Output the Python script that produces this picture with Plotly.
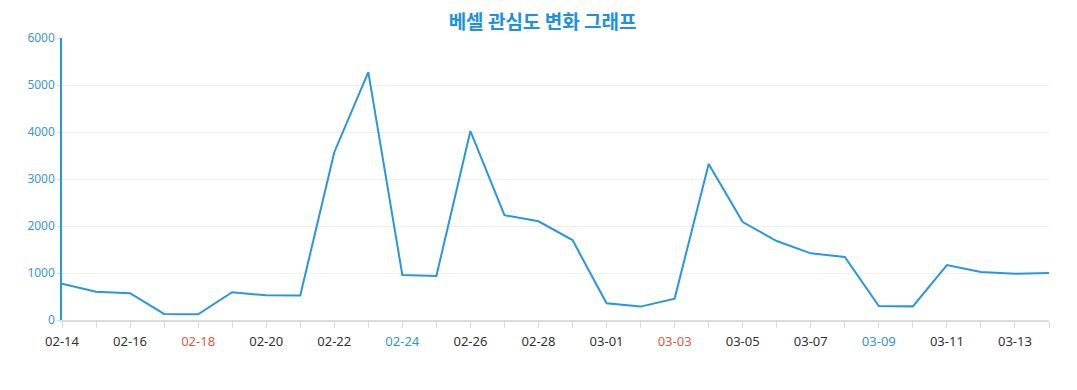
import plotly.graph_objects as go

dates = ["02-14", "02-15", "02-16", "02-17", "02-18", "02-19", "02-20", "02-21",
         "02-22", "02-23", "02-24", "02-25", "02-26", "02-27", "02-28", "02-29",
         "03-01", "03-02", "03-03", "03-04", "03-05", "03-06", "03-07", "03-08",
         "03-09", "03-10", "03-11", "03-12", "03-13", "03-14"]
values = [770, 600, 570, 130, 120, 590, 525, 520,
          3570, 5275, 957, 936, 4020, 2230, 2100, 1700,
          355, 285, 455, 3320, 2085, 1680, 1418, 1340,
          298, 290, 1170, 1021, 985, 1000]
red_dates = ["02-18", "03-03"]
blue_dates = ["02-24", "03-09"]

ticktext = []
for i, d in enumerate(dates):
    if i % 2 == 1:
        ticktext.append("")
    elif d in red_dates:
        ticktext.append(f'<span style="color:#e2583a">{d}</span>')
    elif d in blue_dates:
        ticktext.append(f'<span style="color:#2b97dd">{d}</span>')
    else:
        ticktext.append(d)

fig = go.Figure()
fig.add_trace(go.Scatter(x=dates, y=values, mode="lines",
                         line=dict(color="#2996e2", width=2),
                         hoverinfo="x+y"))

fig.update_layout(
    width=1069, height=382,
    margin=dict(l=54, r=28, t=30, b=70),
    paper_bgcolor="white", plot_bgcolor="white",
    showlegend=False,
    title=dict(text="<b>베셀 관심도 변화 그래프</b>", x=0.5, xanchor="center",
               y=1 - 14 / 382, yanchor="middle",
               font=dict(family="Noto Sans CJK KR", size=19, color="#1c8fe6")),
    font=dict(family="Noto Sans", size=12),
)
fig.update_xaxes(type="category", range=[0, len(dates) - 1],
                 tickmode="array", tickvals=dates, ticktext=ticktext,
                 showgrid=False, showline=True, linecolor="#dcdcdc", linewidth=1.5,
                 ticks="outside", ticklen=6, tickcolor="#dcdcdc", tickwidth=1,
                 ticklabelstandoff=3,
                 tickfont=dict(family="Noto Sans", size=13, color="#333333"),
                 zeroline=False, fixedrange=True)
fig.update_yaxes(range=[0, 6000], dtick=1000,
                 showgrid=True, gridcolor="#f0f0f0", gridwidth=1,
                 showline=True, linecolor="#2996e2", linewidth=1.5,
                 ticks="outside", ticklen=3, tickcolor="#dcdcdc",
                 tickfont=dict(family="Noto Sans", size=12, color="#3a96d8"),
                 zeroline=False, fixedrange=True)

fig.write_html("out.html")
